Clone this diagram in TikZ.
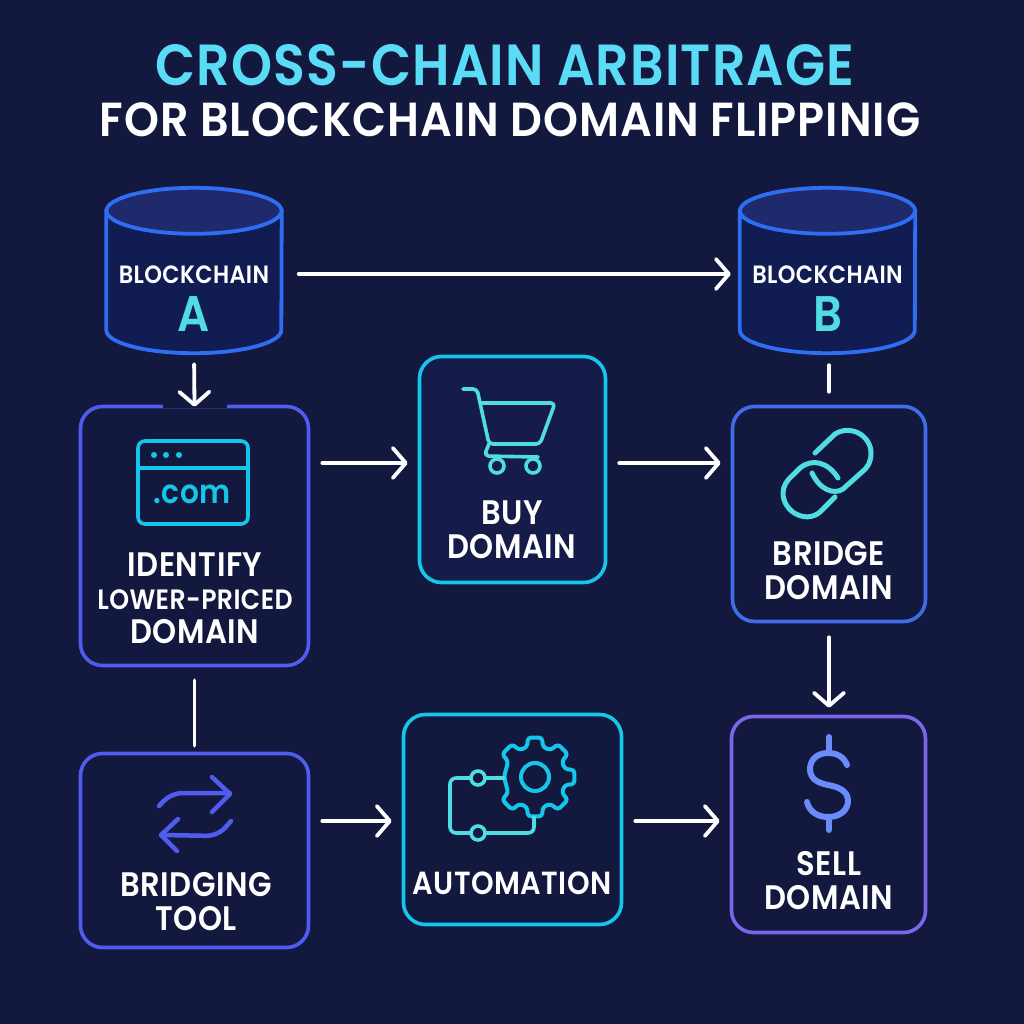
\documentclass[tikz,border=0pt]{standalone}
\usepackage{fontspec}
\setmainfont{Poppins SemiBold}[FakeStretch=0.9,LetterSpace=1.5]
\newfontfamily\headfont{Poppins SemiBold}[FakeStretch=0.93,LetterSpace=2]
\newfontfamily\titlefont{Poppins SemiBold}[FakeStretch=0.9,LetterSpace=2]
\usetikzlibrary{arrows.meta}
\definecolor{bgdark}{HTML}{13183E}
\definecolor{buyfill}{HTML}{151C4A}
\definecolor{titlecyan}{HTML}{5ADBF6}
\definecolor{teal}{HTML}{50DCE2}
\definecolor{cyanline}{HTML}{14C6EA}
\definecolor{indigo}{HTML}{4F5CEE}
\definecolor{blueline}{HTML}{3F6DEA}
\definecolor{chainline}{HTML}{2F6DF2}
\definecolor{chainbody}{HTML}{111C52}
\definecolor{chaintop}{HTML}{1F2A6C}
\definecolor{purpleline}{HTML}{7A66EA}
\definecolor{dollar}{HTML}{6A8CFA}
\tikzset{
  box/.style={draw, rounded corners=22pt, line width=3.6pt, inner sep=0pt},
  chain/.style={inner sep=0pt, minimum width=175pt, minimum height=165pt},
  lbl/.style={text=white, align=center, inner sep=0pt, font=\fontsize{34pt}{34pt}\selectfont},
  flow/.style={draw=white, line width=3.8pt, line cap=round, shorten <=12pt, shorten >=10pt,
    -{Straight Barb[round,length=13pt,width=30pt]}},
  link/.style={draw=white, line width=3.8pt, line cap=round},
  icon/.style={line width=3.6pt, line cap=round, line join=round},
}
\begin{document}
\begin{tikzpicture}[x=1pt,y=-1pt]
  \useasboundingbox[fill=bgdark] (0,0) rectangle (1024,1024);
  \node[text=titlecyan, font=\fontsize{58pt}{58pt}\titlefont, inner sep=0pt] (title) at (505,65) {CROSS-CHAIN ARBITRAGE};
  \node[text=white, font=\fontsize{47.8pt}{47.8pt}\headfont, inner sep=0pt] (subtitle) at (510,120) {FOR BLOCKCHAIN DOMAIN FLIPPINIG};
  % blockchains
  \foreach \n/\p/\s in {chainA/{(194,270.5)}/A,chainB/{(827.5,270.5)}/B} {
    \node[chain] (\n) at \p {};
    \draw[chainline, line width=3.8pt, fill=chainbody] ([yshift=-23pt]\n.north west) -- ([yshift=23pt]\n.south west)
      arc[start angle=180, end angle=360, x radius=87.5pt, y radius=23pt] -- ([yshift=-23pt]\n.north east) -- cycle;
    \draw[chainline, line width=3.8pt, fill=chaintop] ([yshift=-23pt]\n.north) ellipse [x radius=87.5pt, y radius=23pt];
    \node[lbl, font=\fontsize{25pt}{25pt}\selectfont] (\n text) at ([yshift=-4.5pt]\n.center) {BLOCKCHAIN};
    \node[lbl, text=teal, font=\fontsize{50pt}{50pt}\selectfont] (\n letter) at ([yshift=-44pt]\n.center) {\s};
  }
  % boxes
  \foreach \n/\p/\w/\h/\c/\f in {identify/{(194.5,536)}/228/259/indigo/bgdark,buy/{(512.5,469.5)}/186/226/cyanline/buyfill,
      bridge/{(829,514)}/193/215/blueline/bgdark,tool/{(194.5,850.5)}/228/194/indigo/bgdark,
      automation/{(512.5,819.5)}/218/210/cyanline/bgdark,sell/{(828.5,824.5)}/194/216/purpleline/bgdark}
    {\node[box, draw=\c, fill=\f, minimum width=\w pt, minimum height=\h pt] (\n) at \p {};}
  \draw[bgdark, line width=6pt] ([xshift=-32pt]identify.north) -- ([xshift=32pt]identify.north);
  % labels
  \node[lbl] (identifytext) at (195,598) {IDENTIFY\\[-.5pt]{\fontsize{28pt}{33pt}\selectfont LOWER-PRICED}\\DOMAIN};
  \node[lbl] (buytext) at (512,530) {BUY\\DOMAIN};
  \node[lbl] (bridgetext) at (829,571) {BRIDGE\\DOMAIN};
  \node[lbl] (tooltext) at (196,902) {BRIDGING\\TOOL};
  \node[lbl, font=\fontsize{32pt}{33pt}\selectfont] (automationtext) at (512,883) {AUTOMATION};
  \node[lbl] (selltext) at (829,881) {SELL\\DOMAIN};
  % connectors
  \coordinate (row1) at (0,463);
  \coordinate (row2) at (0,821);
  \draw[flow, shorten <=17pt, shorten >=9pt] ([yshift=-3.5pt]chainA.east) -- ([yshift=-3.5pt]chainB.west);
  \draw[flow, shorten <=11pt, shorten >=-2pt] (chainA.south) -- (identify.north);
  \draw[flow] (identify.east |- row1) -- (buy.west |- row1);
  \draw[flow] (buy.east |- row1) -- (bridge.west |- row1);
  \draw[link, shorten <=12pt, shorten >=13pt] (chainB.south -| bridge.north) -- (bridge.north);
  \draw[flow, shorten <=14pt, shorten >=7pt] (bridge.south) -- (sell.north -| bridge.south);
  \draw[link, shorten <=13pt, shorten >=6pt] (identify.south) -- (tool.north);
  \draw[flow] (tool.east |- row2) -- (automation.west |- row2);
  \draw[flow] (automation.east |- row2) -- (sell.west |- row2);
  % window icon
  \draw[icon, cyanline, rounded corners=7pt] (138,441) rectangle (248,524);
  \draw[icon, cyanline] (138,468) -- (248,468);
  \foreach \x in {154,166,179} {\fill[cyanline] (\x,455) circle[radius=3pt];}
  \node[text=cyanline, font=\fontsize{33pt}{33pt}\selectfont, inner sep=0pt] (comtext) at (192,494) {.com};
  % cart icon
  \draw[icon, teal, rounded corners=4pt] (463,389) -- (477,389) -- (489,444) -- (540,444) -- (555,403) -- (482,403);
  \draw[icon, teal, rounded corners=5pt] (489,444) -- (484,456) -- (538,457);
  \foreach \x in {497,533} {\draw[icon, teal, fill=buyfill] (\x,466) circle[radius=7pt];}
  % link icon
  \draw[icon, teal, line width=5pt] (815,453) -- (835,434) .. controls (851,424) and (871,436) .. (871,453)
    .. controls (871,462) and (868,467) .. (862,472) -- (843,489) .. controls (834,495) and (820,490) .. (812,473);
  \draw[icon, teal, line width=5pt] (835,497) -- (820,512) .. controls (806,524) and (783,512) .. (783,493)
    .. controls (783,486) and (787,480) .. (793,475) -- (800,468) .. controls (812,458) and (828,462) .. (838,478);
  % swap icon
  \draw[icon, indigo, line width=4.5pt, rounded corners=11pt] (159,806) -- (171,793) -- (230,793);
  \draw[icon, indigo, line width=4.5pt] (212,777) -- (230,794) -- (212,812);
  \draw[icon, indigo, line width=4.5pt, rounded corners=11pt] (231,821) -- (218,836) -- (161,835);
  \draw[icon, indigo, line width=4.5pt] (178,819) -- (161,835) -- (177,851);
  % gear icon
  \begin{scope}[shift={(535,777)}]
    \draw[icon, cyanline, line width=4pt, rounded corners=3pt] (180:31) \foreach \a in {225,270,...,495} {-- (\a-15:31) -- (\a-10:40) -- (\a+10:40) -- (\a+15:31)} -- cycle;
    \draw[icon, cyanline, line width=4pt] (0,0) circle[radius=14pt];
  \end{scope}
  \draw[icon, teal, rounded corners=6pt] (504,778) -- (450,778) -- (450,833) -- (534,833) -- (534,817);
  \foreach \y in {778,833} {\draw[icon, teal, fill=bgdark] (478,\y) circle[radius=7pt];}
  % dollar icon
  \draw[icon, dollar, line width=6pt] (829,737) -- (829,753) (829,817) -- (829,830);
  \draw[icon, dollar, line width=6pt] (847,765) .. controls (844,757) and (837,753) .. (828,753)
    .. controls (817,753) and (810,760) .. (810,769) .. controls (810,779) and (818,783) .. (828,785)
    .. controls (839,787) and (848,791) .. (848,801) .. controls (848,810) and (840,817) .. (828,817)
    .. controls (817,817) and (809,811) .. (807,802);
\end{tikzpicture}
\end{document}
